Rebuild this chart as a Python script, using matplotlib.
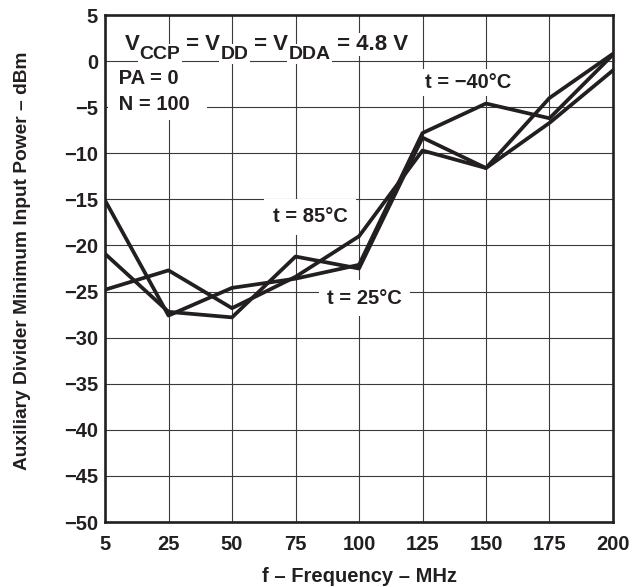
import matplotlib
matplotlib.use("Agg")
import matplotlib.pyplot as plt

plt.rcParams['font.family'] = ['Liberation Sans', 'DejaVu Sans']
plt.rcParams['font.weight'] = 'bold'
plt.rcParams['axes.labelweight'] = 'bold'

# x axis is evenly spaced categories (5 -> 25 gets the same width as 25 -> 50)
freq_labels = ['5', '25', '50', '75', '100', '125', '150', '175', '200']
y_ticks = [5, 0, -5, -10, -15, -20, -25, -30, -35, -40, -45, -50]

# dBm
t_m40 = [-15.1, -27.6, -24.6, -23.6, -22.1, -7.8, -4.6, -6.2, 0.7]
t_85 = [-24.8, -22.7, -26.8, -23.4, -19.0, -9.7, -11.6, -6.7, -1.0]
t_25 = [-20.9, -27.2, -27.8, -21.2, -22.5, -8.3, -11.6, -4.0, 0.8]

ink = '#231f20'
fs = 14.5
box = dict(facecolor='white', edgecolor='none', pad=1.0)

fig = plt.figure(figsize=(6.33, 5.87), dpi=100)
ax = fig.add_axes([0.1659, 0.1107, 0.8025, 0.8637])

x = list(range(len(freq_labels)))
for series in (t_m40, t_85, t_25):
    ax.plot(x, series, color=ink, linewidth=2.7, solid_joinstyle='round', zorder=3)

ax.set_xlim(0, len(freq_labels) - 1)
ax.set_ylim(-50, 5)
ax.set_xticks(x)
ax.set_xticklabels(freq_labels, fontweight='bold')
ax.set_yticks(y_ticks)
ax.tick_params(length=0, labelsize=fs, colors=ink)
ax.tick_params(axis='x', pad=9)
ax.tick_params(axis='y', pad=5)
ax.grid(True, color='#3a3a3a', linewidth=0.8)
ax.set_axisbelow(True)
for sp in ax.spines.values():
    sp.set_linewidth(1.9)
    sp.set_color(ink)

ax.set_xlabel('f \u2013 Frequency \u2013 MHz', fontsize=fs, fontweight='bold',
              labelpad=10, color=ink)
ax.set_ylabel('Auxiliary Divider Minimum Input Power \u2013 dBm', fontsize=13.8,
              fontweight='bold', color=ink)
ax.yaxis.set_label_coords(-0.145, 0.515)

# supply line with real subscripts, chained piece by piece
main_fs = 16
sub_fs = 14
pieces = [('V', False), ('CCP', True), (' = V', False), ('DD', True),
          (' = V', False), ('DDA', True), (' = 4.8 V', False)]
prev = ax.text(0.31, 1.2, pieces[0][0], fontsize=main_fs, fontweight='bold', color=ink,
               bbox=box, ha='left', va='baseline', zorder=4)
prev_sub = False
for txt, is_sub in pieces[1:]:
    dy = 0
    if is_sub and not prev_sub:
        dy = -5.5
    elif prev_sub and not is_sub:
        dy = 5.5
    prev = ax.annotate(txt, xy=(1, 0), xycoords=prev, xytext=(0, dy),
                       textcoords='offset points', fontsize=sub_fs if is_sub else main_fs,
                       fontweight='bold', color=ink, ha='left', va='bottom',
                       bbox=box, zorder=4)
    prev_sub = is_sub

ax.text(0.13, -3.3, ' PA = 0\n N = 100  ', fontsize=fs, fontweight='bold', color=ink,
        ha='left', va='center', linespacing=1.45, zorder=4,
        bbox=dict(facecolor='white', edgecolor='none', pad=4))

ax.text(3.23, -16.9, 't = 85\u00b0C', fontsize=fs, fontweight='bold', color=ink,
        ha='center', va='center', zorder=4,
        bbox=dict(facecolor='white', edgecolor='none', pad=6))
ax.text(4.09, -25.7, 't = 25\u00b0C', fontsize=fs, fontweight='bold', color=ink,
        ha='center', va='center', zorder=4,
        bbox=dict(facecolor='white', edgecolor='none', pad=6))
ax.text(5.72, -2.3, 't = \u221240\u00b0C', fontsize=fs, fontweight='bold', color=ink,
        ha='center', va='center', zorder=4,
        bbox=dict(facecolor='white', edgecolor='none', pad=3))

fig.savefig('out.png', dpi=100)
